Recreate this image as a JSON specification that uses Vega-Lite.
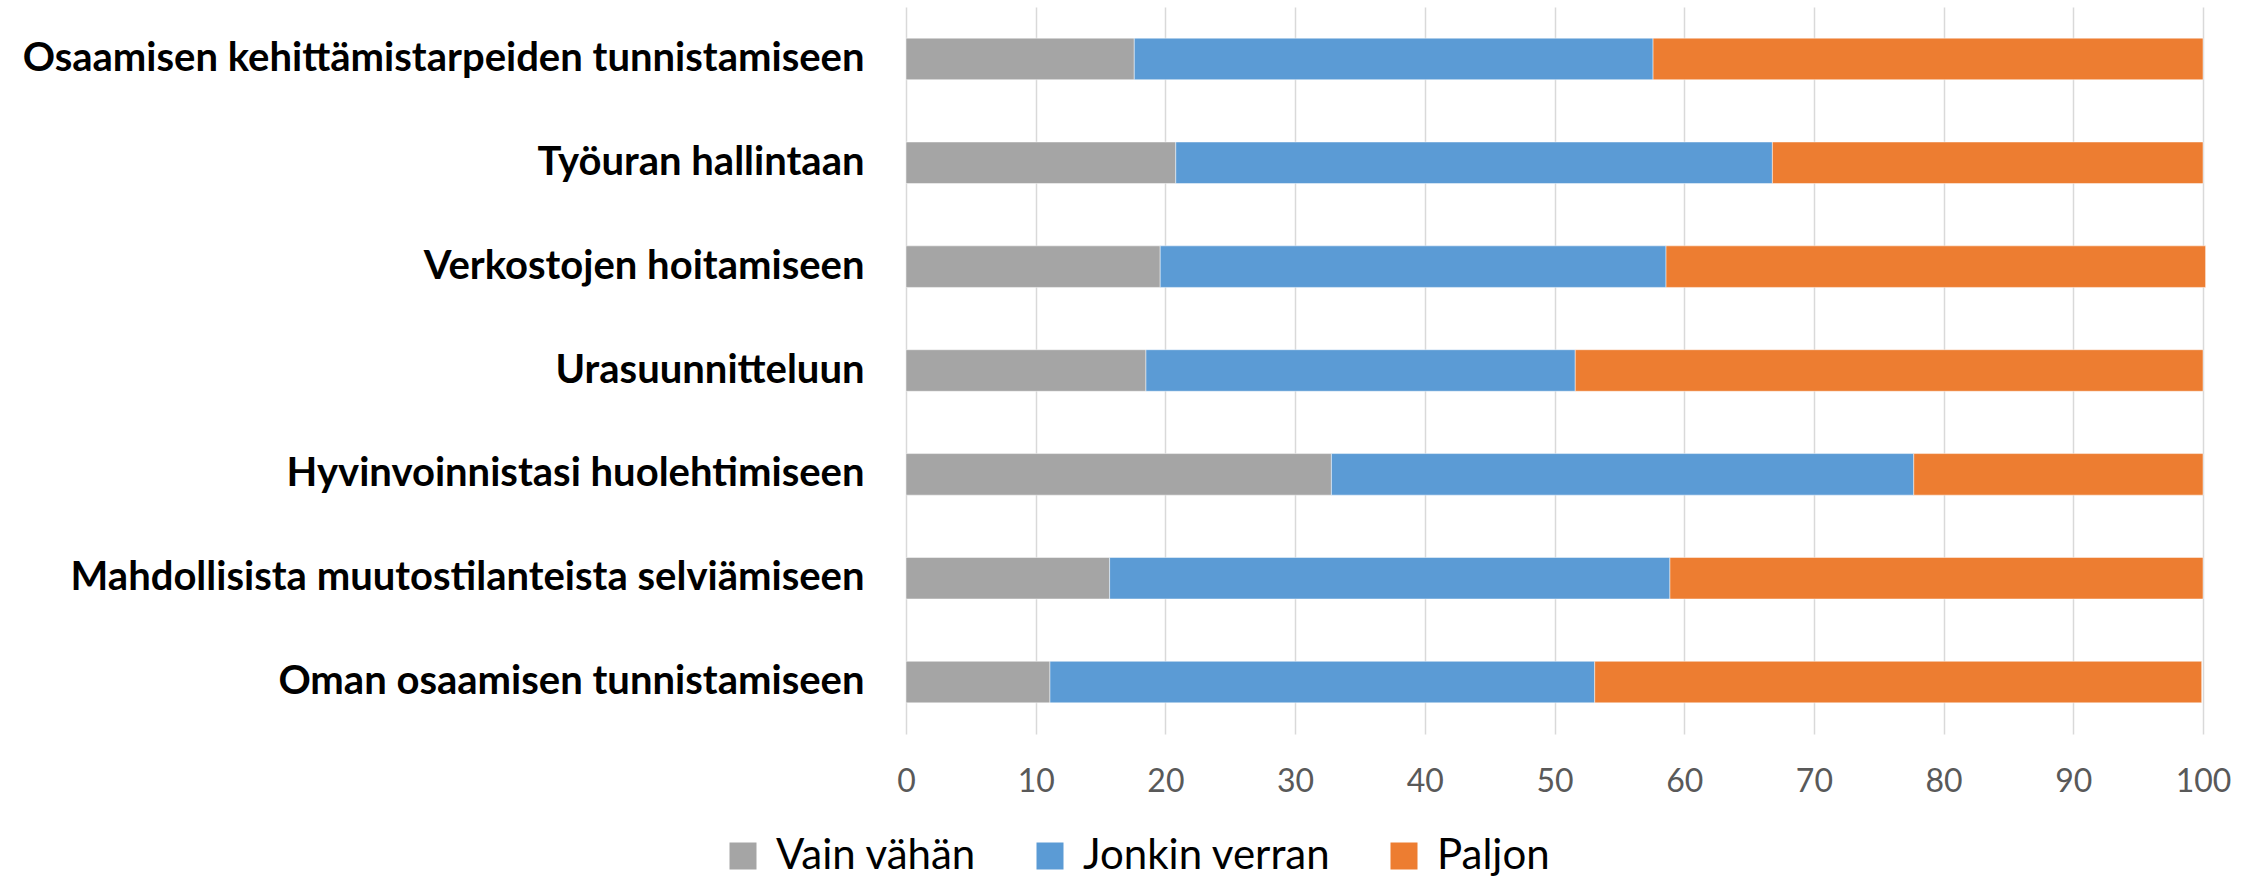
{
  "$schema": "https://vega.github.io/schema/vega-lite/v6.json",
  "width": 1297,
  "height": 727,
  "autosize": {"type": "none"},
  "padding": {"left": 906, "top": 7, "right": 52, "bottom": 147},
  "background": "white",
  "config": {"view": {"stroke": null}, "font": "Lato"},
  "data": {
    "values": [
      {"item": "Osaamisen kehittämistarpeiden tunnistamiseen", "answer": "Vain vähän", "rank": 1, "value": 17.6},
      {"item": "Osaamisen kehittämistarpeiden tunnistamiseen", "answer": "Jonkin verran", "rank": 2, "value": 40.0},
      {"item": "Osaamisen kehittämistarpeiden tunnistamiseen", "answer": "Paljon", "rank": 3, "value": 42.4},
      {"item": "Työuran hallintaan", "answer": "Vain vähän", "rank": 1, "value": 20.8},
      {"item": "Työuran hallintaan", "answer": "Jonkin verran", "rank": 2, "value": 46.0},
      {"item": "Työuran hallintaan", "answer": "Paljon", "rank": 3, "value": 33.2},
      {"item": "Verkostojen hoitamiseen", "answer": "Vain vähän", "rank": 1, "value": 19.6},
      {"item": "Verkostojen hoitamiseen", "answer": "Jonkin verran", "rank": 2, "value": 39.0},
      {"item": "Verkostojen hoitamiseen", "answer": "Paljon", "rank": 3, "value": 41.6},
      {"item": "Urasuunnitteluun", "answer": "Vain vähän", "rank": 1, "value": 18.5},
      {"item": "Urasuunnitteluun", "answer": "Jonkin verran", "rank": 2, "value": 33.1},
      {"item": "Urasuunnitteluun", "answer": "Paljon", "rank": 3, "value": 48.4},
      {"item": "Hyvinvoinnistasi huolehtimiseen", "answer": "Vain vähän", "rank": 1, "value": 32.8},
      {"item": "Hyvinvoinnistasi huolehtimiseen", "answer": "Jonkin verran", "rank": 2, "value": 44.9},
      {"item": "Hyvinvoinnistasi huolehtimiseen", "answer": "Paljon", "rank": 3, "value": 22.3},
      {"item": "Mahdollisista muutostilanteista selviämiseen", "answer": "Vain vähän", "rank": 1, "value": 15.7},
      {"item": "Mahdollisista muutostilanteista selviämiseen", "answer": "Jonkin verran", "rank": 2, "value": 43.2},
      {"item": "Mahdollisista muutostilanteista selviämiseen", "answer": "Paljon", "rank": 3, "value": 41.1},
      {"item": "Oman osaamisen tunnistamiseen", "answer": "Vain vähän", "rank": 1, "value": 11.1},
      {"item": "Oman osaamisen tunnistamiseen", "answer": "Jonkin verran", "rank": 2, "value": 42.0},
      {"item": "Oman osaamisen tunnistamiseen", "answer": "Paljon", "rank": 3, "value": 46.8}
    ]
  },
  "mark": {"type": "bar", "stroke": "#ffffff", "strokeWidth": 0.8, "strokeOpacity": 0.6},
  "encoding": {
    "y": {
      "field": "item",
      "type": "nominal",
      "sort": null,
      "scale": {"paddingInner": 0.6, "paddingOuter": 0.3},
      "axis": {
        "title": null,
        "domain": false,
        "ticks": false,
        "labelFont": "Lato",
        "labelFontWeight": "bold",
        "labelFontSize": 40,
        "labelColor": "#000000",
        "labelPadding": 42,
        "labelLimit": 900
      }
    },
    "x": {
      "field": "value",
      "type": "quantitative",
      "stack": "zero",
      "scale": {"domain": [0, 100], "nice": false},
      "axis": {
        "title": null,
        "values": [0, 10, 20, 30, 40, 50, 60, 70, 80, 90, 100],
        "domain": false,
        "ticks": false,
        "grid": true,
        "gridColor": "#d9d9d9",
        "gridWidth": 1.5,
        "labelFont": "Lato",
        "labelFontSize": 32,
        "labelColor": "#595959",
        "labelPadding": 32,
        "labelFlush": false
      }
    },
    "color": {
      "field": "answer",
      "type": "nominal",
      "scale": {
        "domain": ["Vain vähän", "Jonkin verran", "Paljon"],
        "range": ["#a5a5a5", "#5b9bd5", "#ed7d31"]
      },
      "legend": {
        "title": null,
        "orient": "none",
        "direction": "horizontal",
        "legendX": -184,
        "legendY": 828,
        "symbolType": "square",
        "symbolSize": 729,
        "symbolStrokeWidth": 0,
        "labelFont": "Lato",
        "labelFontSize": 42,
        "labelColor": "#000000",
        "labelOffset": 12,
        "columnPadding": 52,
        "labelLimit": 400
      }
    },
    "order": {"field": "rank", "type": "quantitative"}
  }
}
